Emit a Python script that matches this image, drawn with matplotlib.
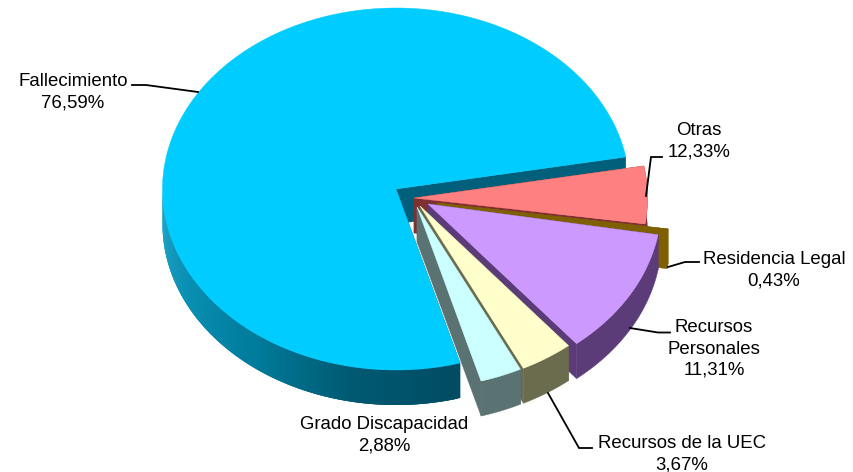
# -*- coding: utf-8 -*-
import numpy as np
import matplotlib
matplotlib.use('Agg')
import matplotlib.pyplot as plt
from matplotlib.colors import LinearSegmentedColormap
from matplotlib.patches import Polygon

plt.rcParams['font.family'] = ['Liberation Sans', 'DejaVu Sans']

# slices as drawn, counter clockwise from the start angle
categories = ['Fallecimiento', 'Grado Discapacidad', 'Recursos de la UEC',
              'Recursos Personales', 'Residencia Legal', 'Otras']
drawn_share = [76.59, 2.88, 3.67, 11.31, 0.43, 5.12]
# printed labels (Otras says 12,33 but is drawn smaller)
label_text = ['Fallecimiento\n76,59%', 'Grado Discapacidad\n2,88%',
              'Recursos de la UEC\n3,67%', 'Recursos\nPersonales\n11,31%',
              'Residencia Legal\n0,43%', 'Otras\n12,33%']

W, H = 854, 472
start_angle = 10.2
cx, cy = 395.0, 189.0
rx, ry = 233.5, 181.0
depth = 35.0

explode = {'Fallecimiento': (1, 0), 'Grado Discapacidad': (22, 18),
           'Recursos de la UEC': (25, 17), 'Recursos Personales': (33, 15),
           'Residencia Legal': (42, 14), 'Otras': (19, 9)}
top_color = {'Fallecimiento': '#00CCFF', 'Grado Discapacidad': '#CCFFFF',
             'Recursos de la UEC': '#FFFFCC', 'Recursos Personales': '#CC99FF',
             'Residencia Legal': '#7F6000', 'Otras': '#FF8080'}
side_color = {'Fallecimiento': '#00607C', 'Grado Discapacidad': '#5A7272',
              'Recursos de la UEC': '#6B6B4E', 'Recursos Personales': '#5B3B78',
              'Residencia Legal': '#7F6000', 'Otras': '#7F3030'}
draw_order = ['Fallecimiento', 'Otras', 'Residencia Legal', 'Recursos Personales',
              'Recursos de la UEC', 'Grado Discapacidad']
main_wall = LinearSegmentedColormap.from_list(
    'main_wall', ['#22A6C8', '#0A90B4', '#007C9C', '#005A72', '#004C62'])


def rim(x0, y0, a0, a1):
    t = np.radians(np.linspace(a0, a1, max(int(abs(a1 - a0) * 2), 2)))
    return x0 + rx * np.cos(t), y0 - ry * np.sin(t)


def poly(ax, xs, ys, color, z, lw=0.3):
    ax.add_patch(Polygon(np.column_stack([xs, ys]), closed=True, facecolor=color,
                         edgecolor=color, linewidth=lw, zorder=z))


def draw_slice(ax, name, a0, a1, z):
    x0 = cx + explode[name][0]
    y0 = cy + explode[name][1]
    side = side_color[name]
    ax_start = rim(x0, y0, a0, a0 + 0.001)
    ax_end = rim(x0, y0, a1, a1 + 0.001)
    # radial walls
    for px, py in (ax_start, ax_end):
        poly(ax, [x0, px[0], px[0], x0], [y0, py[0], py[0] + depth, y0 + depth], side, z)
    xs, ys = rim(x0, y0, a0, a1)
    angles = np.linspace(a0, a1, len(xs))
    if name == 'Fallecimiento':
        # gradient wall, pieces overlap so no seams show
        for i in range(len(xs) - 3):
            mid = angles[i] % 360
            if mid < 180:
                continue
            color = main_wall((mid - 180.0) / 105.0)
            poly(ax, [xs[i], xs[i + 3], xs[i + 3], xs[i]],
                 [ys[i], ys[i + 3], ys[i + 3] + depth, ys[i] + depth], color, z, lw=0)
    poly_x = np.r_[xs, xs[::-1]]
    poly_y = np.r_[ys, ys[::-1] + depth]
    if name != 'Fallecimiento':
        poly(ax, poly_x, poly_y, side, z)
    poly(ax, np.r_[x0, xs], np.r_[y0, ys], top_color[name], z + 0.5)


fig = plt.figure(figsize=(W / 100.0, H / 100.0), dpi=100)
ax = fig.add_axes([0, 0, 1, 1])
ax.set_xlim(0, W)
ax.set_ylim(H, 0)
ax.axis('off')

edges = start_angle + np.cumsum(np.r_[0, drawn_share]) * 3.6
spans = dict(zip(categories, zip(edges[:-1], edges[1:])))
for i, name in enumerate(draw_order):
    draw_slice(ax, name, spans[name][0], spans[name][1], 2 + i)

# leader lines
leaders = [([132, 146, 198], [85, 85, 92]),
           ([662, 651, 646], [157, 157, 196]),
           ([699, 685, 668], [262, 262, 267]),
           ([670, 658, 630], [332.5, 332.5, 328]),
           ([592, 579, 548], [448, 448, 393])]
for lx, ly in leaders:
    ax.plot(lx, ly, color='black', lw=1.3, zorder=20, solid_joinstyle='miter')

label_pos = {'Fallecimiento': (73, 92), 'Otras': (699, 141),
             'Residencia Legal': (774, 270), 'Recursos Personales': (714, 349),
             'Recursos de la UEC': (682, 454.5), 'Grado Discapacidad': (384, 435.5)}
for name, txt in zip(categories, label_text):
    ax.text(label_pos[name][0], label_pos[name][1], txt, ha='center', va='center',
            fontsize=13.4, color='black', linespacing=1.32, zorder=21)

fig.savefig('out.png', dpi=100)
